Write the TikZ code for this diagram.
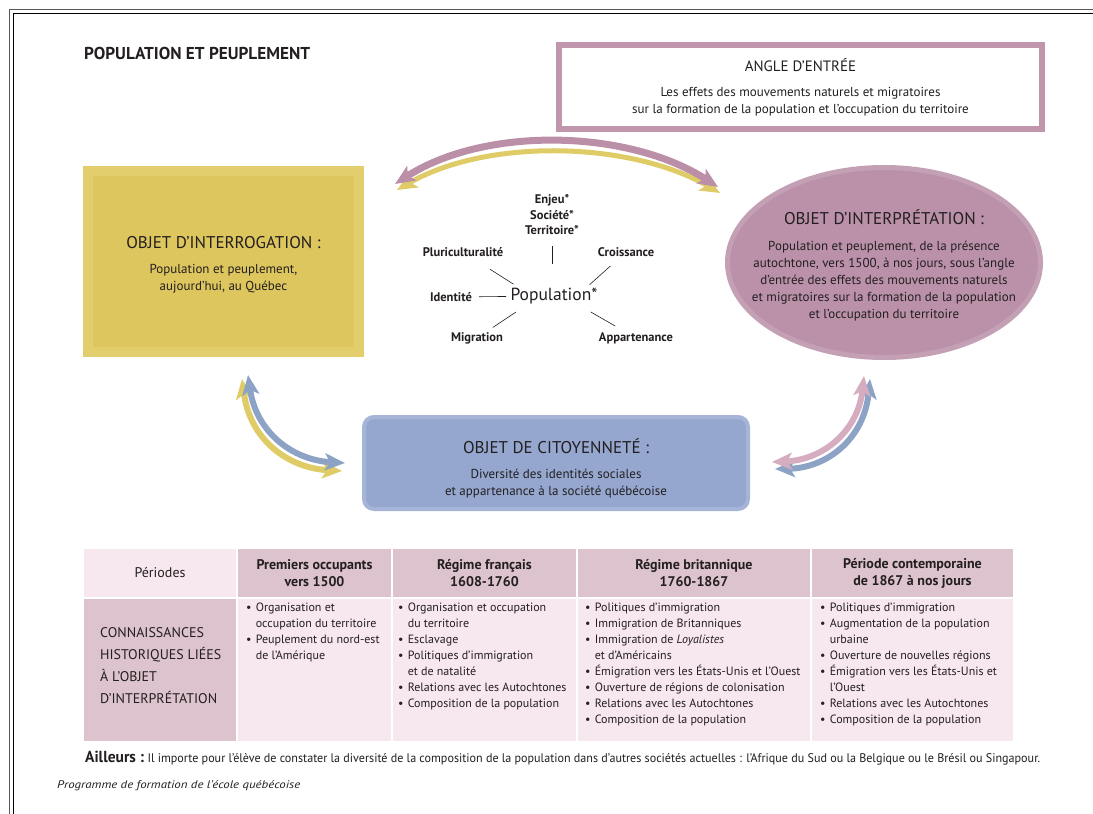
\documentclass[tikz,border=0pt]{standalone}
\usepackage{fontspec}
\usepackage{graphicx}
\setmainfont{PT Sans}
\usetikzlibrary{arrows.meta,shapes.geometric}
\definecolor{ink}{HTML}{231F20}
\definecolor{yellowlite}{HTML}{E3CE6E}
\definecolor{yellowdark}{HTML}{DDC65E}
\definecolor{mauvelite}{HTML}{C4A0B5}
\definecolor{mauvedark}{HTML}{BA91A9}
\definecolor{mauveline}{HTML}{C196AD}
\definecolor{bluelite}{HTML}{A5B4D7}
\definecolor{bluedark}{HTML}{95A7CF}
\definecolor{tabdark}{HTML}{DDC3CD}
\definecolor{tablite}{HTML}{F7E7EE}
\definecolor{arrmauve}{HTML}{BC8FA8}
\definecolor{arryellow}{HTML}{E0CC66}
\definecolor{arrblue}{HTML}{8CA3C6}
\definecolor{arrpink}{HTML}{D6ACC0}
\newcommand\bul{\makebox[0.8em][l]{•}}
\newcommand\ind{\hspace*{0.8em}}
\newcommand\btitle[1]{{\fontsize{17}{20}\selectfont #1}}

\begin{document}
\begin{tikzpicture}[x=1pt, y=-1pt, text=ink,
  bigbox/.style={align=center, font=\fontsize{13}{17}\selectfont},
  spokenode/.style={font=\bfseries\fontsize{12.5}{15.5}\selectfont, inner sep=2pt, align=center},
  spoke/.style={draw=ink, line width=0.6pt},
  band/.style={line width=6pt, {Stealth[length=20pt,width=17pt,inset=5pt]}-{Stealth[length=20pt,width=17pt,inset=5pt]}},
  headcell/.style={font=\bfseries\fontsize{14}{17}\selectfont, align=center},
  listcell/.style={anchor=north west, inner sep=0pt, align=left, font=\fontsize{12}{16}\selectfont}]
\useasboundingbox (0,0) rectangle (1093,814);
\fill[white] (0,0) rectangle (1093,814);
\clip (0,0) rectangle (1093,814);
\draw[black!65, line width=1pt] (9,9) rectangle (1120,840);
\draw[black, line width=0.6pt] (13.5,13.5) rectangle (1115,835);

\node[anchor=west, inner sep=0pt, font=\bfseries\fontsize{17.2}{20}\selectfont] (title) at (84,53) {POPULATION ET PEUPLEMENT};

\node[draw=mauveline, line width=6pt, fill=white, minimum width=483pt, minimum height=84pt, bigbox] (angle) at (800.5,87)
  {{\fontsize{15}{17}\selectfont ANGLE D’ENTRÉE}\\[8pt]
   Les effets des mouvements naturels et migratoires\\
   sur la formation de la population et l’occupation du territoire};

\node[draw=yellowlite, line width=10pt, fill=yellowdark, minimum width=271pt, minimum height=181pt] (interro) at (223.5,261.5) {};
\node[bigbox] (interrotext) at ([yshift=-3pt]interro.center)
  {\btitle{OBJET D’INTERROGATION :}\\[8pt]
   Population et peuplement,\\ aujourd’hui, au Québec};

\node[ellipse, draw=mauvelite, line width=5pt, fill=mauvedark, minimum width=313pt, minimum height=190pt, inner sep=0pt] (interp) at (884,262.5) {};
\node[bigbox] (interptext) at ([yshift=-3pt]interp.center)
  {\btitle{OBJET D’INTERPRÉTATION :}\\[9pt]
   Population et peuplement, de la présence\\
   autochtone, vers 1500, à nos jours, sous l’angle\\
   d’entrée des effets des mouvements naturels\\
   et migratoires sur la formation de la population\\
   et l’occupation du territoire};

\node[draw=bluelite, line width=4pt, fill=bluedark, rounded corners=10pt, minimum width=384pt, minimum height=92pt] (citoy) at (556,463) {};
\node[bigbox] (citoytext) at ([yshift=-5pt]citoy.center)
  {\btitle{OBJET DE CITOYENNETÉ :}\\[8pt]
   Diversité des identités sociales\\ et appartenance à la société québécoise};

\node[font=\fontsize{17.5}{20}\selectfont, inner sep=2pt] (pop) at (554,296) {Population*};
\node[spokenode] (enjeu) at (552,215) {Enjeu*\\Société*\\Territoire*};
\node[spokenode] (pluri) at (463,252) {Pluriculturalité};
\node[spokenode] (crois) at (626,252) {Croissance};
\node[spokenode] (ident) at (451,297) {Identité};
\node[spokenode] (migr) at (477,338) {Migration};
\node[spokenode] (appart) at (636,338) {Appartenance};
\draw[spoke, shorten <=31pt, shorten >=32pt] (enjeu.center) -- ([xshift=-2pt]pop.center);
\draw[spoke, shorten <=32pt, shorten >=22pt] (pluri.center) -- ([xshift=-22pt]pop.center);
\draw[spoke, shorten <=21pt, shorten >=17pt] (crois.center) -- ([xshift=23pt]pop.center);
\draw[spoke, shorten <=28pt, shorten >=48pt] (ident.center) -- (pop.center);
\draw[spoke, shorten <=19pt, shorten >=29pt] (migr.center) -- ([xshift=-14pt]pop.center);
\draw[spoke, shorten <=24pt, shorten >=32pt] (appart.center) -- ([xshift=9pt]pop.center);

\coordinate (tl) at (397,190);
\coordinate (tr) at (720,193);
\coordinate (tlm) at (395,184);
\coordinate (trm) at (718,187);
\draw[band, arryellow, line width=5pt] (tl) .. controls +(90,-52) and +(-90,-52) .. (tr);
\draw[band, arrmauve, line width=7pt] (tlm) .. controls +(90,-58) and +(-90,-58) .. (trm);

\coordinate (ly1) at (242,379);
\coordinate (ly2) at (342,471);
\coordinate (lb1) at (248,375);
\coordinate (lb2) at (345,463);
\draw[band, arryellow] (ly1) .. controls (250,440) and (288,468) .. (ly2);
\draw[band, arrblue] (lb1) .. controls (256,432) and (292,460) .. (lb2);

\coordinate (rb1) at (870,379);
\coordinate (rb2) at (775,469);
\coordinate (rp1) at (864,376);
\coordinate (rp2) at (772,462);
\draw[band, arrblue] (rb1) .. controls (864,440) and (826,468) .. (rb2);
\draw[band, arrpink] (rp1) .. controls (858,432) and (822,460) .. (rp2);

\foreach \n/\xa/\xb/\ca/\cb in {1/84/236/tablite/tabdark, 2/238/391/tabdark/tablite, 3/393/576/tabdark/tablite, 4/578/810/tabdark/tablite, 5/812/1013/tabdark/tablite} {
  \fill[\ca] (\xa,549) rectangle (\xb,597);
  \fill[\cb] (\xa,599) rectangle (\xb,741);
  \coordinate (h\n) at ({(\xa+\xb)/2},573);
}
\node[headcell, font=\fontsize{14}{17}\selectfont] at (h1) {Périodes};
\node[headcell] at (h2) {Premiers occupants\\vers 1500};
\node[headcell] at (h3) {Régime français\\1608-1760};
\node[headcell] at (h4) {Régime britannique\\1760-1867};
\node[headcell] at (h5) {Période contemporaine\\de 1867 à nos jours};

\node[listcell, font=\fontsize{14}{22}\selectfont] (conn) at (100,627)
  {CONNAISSANCES\\HISTORIQUES LIÉES\\À L’OBJET\\D’INTERPRÉTATION};
\node[listcell] (premiers) at (246,603)
  {\bul Organisation et\\ \ind occupation du territoire\\
   \bul Peuplement du nord-est\\ \ind de l’Amérique};
\node[listcell] (francais) at (398,603)
  {\bul Organisation et occupation\\ \ind du territoire\\
   \bul Esclavage\\
   \bul Politiques d’immigration\\ \ind et de natalité\\
   \bul Relations avec les Autochtones\\
   \bul Composition de la population};
\node[listcell] (brit) at (585,603)
  {\bul Politiques d’immigration\\
   \bul Immigration de Britanniques\\
   \bul Immigration de \textit{Loyalistes}\\ \ind et d’Américains\\
   \bul Émigration vers les États-Unis et l’Ouest\\
   \bul Ouverture de régions de colonisation\\
   \bul Relations avec les Autochtones\\
   \bul Composition de la population};
\node[listcell] (contemp) at (820,603)
  {\bul Politiques d’immigration\\
   \bul Augmentation de la population\\ \ind urbaine\\
   \bul Ouverture de nouvelles régions\\
   \bul Émigration vers les États-Unis et\\ \ind l’Ouest\\
   \bul Relations avec les Autochtones\\
   \bul Composition de la population};

\node[anchor=west, inner sep=0pt] (ailleurs) at (85,758)
  {\resizebox{955pt}{\height}{{\bfseries\fontsize{16}{18}\selectfont Ailleurs :} \fontsize{12.5}{14}\selectfont Il importe pour l’élève de constater la diversité de la composition de la population dans d’autres sociétés actuelles : l’Afrique du Sud ou la Belgique ou le Brésil ou Singapour.}};
\node[anchor=west, inner sep=0pt, font=\itshape\fontsize{11}{12}\selectfont] (prog) at (57,786)
  {\resizebox{243pt}{\height}{Programme de formation de l’école québécoise}};
\end{tikzpicture}
\end{document}
